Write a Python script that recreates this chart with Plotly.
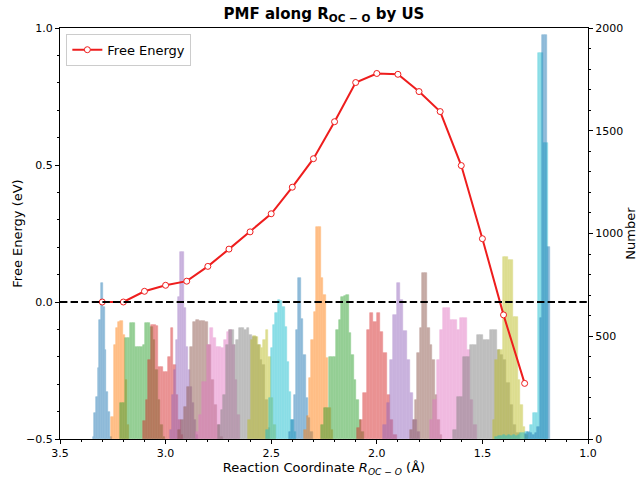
import plotly.graph_objects as go

# ---- Free energy profile (eV) along the reaction coordinate (Å) ----
FE_X = [3.3, 3.2, 3.1, 3.0, 2.9, 2.8, 2.7, 2.6, 2.5, 2.4, 2.3,
        2.2, 2.1, 2.0, 1.9, 1.8, 1.7, 1.6, 1.5, 1.4, 1.3]
FE_Y = [0.0, 0.0, 0.039, 0.061, 0.076, 0.130, 0.193, 0.256, 0.322, 0.419, 0.523,
        0.658, 0.801, 0.834, 0.831, 0.768, 0.695, 0.498, 0.231, -0.047, -0.297]

# ---- Umbrella-sampling window histograms (counts) ----
# each window: upper edge (Å), bin width (Å), counts going toward smaller R
HIST_START = [3.346, 3.2565, 3.214, 3.1052, 2.9775, 2.9397, 2.8546, 2.7506, 2.6087, 2.5236,
              2.4163, 2.3440, 2.2636, 2.0948, 1.9690, 1.8428, 1.7482, 1.6381, 1.4504, 1.4385,
              1.2991]
HIST_BW = [0.00817, 0.01064, 0.01182, 0.01182, 0.00946, 0.01418, 0.0130, 0.01229, 0.01182, 0.01087,
           0.01135, 0.01135, 0.01182, 0.01576, 0.01576, 0.01182, 0.01576, 0.01576, 0.01182, 0.01182,
           0.01182]
HIST_COUNTS = [
    [10, 127, 204, 345, 579, 759, 642, 433, 229, 131, 10],
    [107, 457, 540, 569, 574, 506, 287, 68],
    [175, 175, 491, 491, 564, 564, 448, 448, 448, 457, 564, 564, 545, 482, 336, 190, 68, 10],
    [88, 190, 384, 555, 555, 550, 350, 350, 326, 326, 399, 540, 360, 214, 92, 19],
    [44, 214, 336, 482, 691, 910, 910, 637, 448, 336, 253, 175, 92, 19],
    [44, 92, 156, 253, 448, 569, 579, 574, 574, 569, 457, 287, 165, 68, 10],
    [34, 117, 277, 277, 457, 540, 491, 448, 448, 443, 482, 520, 530, 457, 287, 117],
    [68, 141, 214, 457, 530, 530, 457, 482, 540, 540, 530, 540, 506, 496, 496, 457, 384, 360, 190, 54],
    [92, 482, 501, 496, 457, 443, 482, 530, 399, 200, 68],
    [44, 200, 443, 555, 613, 676, 672, 642, 545, 375, 229, 92, 34],
    [34, 92, 214, 530, 783, 584, 409, 200, 102, 34],
    [44, 112, 297, 482, 618, 1032, 1032, 783, 700, 394, 151, 44],
    [68, 151, 151, 399, 399, 399, 530, 579, 691, 696, 701, 516, 409, 287, 190, 92, 34],
    [54, 92, 224, 530, 613, 569, 613, 521, 418, 214, 92, 19],
    [68, 175, 384, 603, 759, 676, 526, 384, 224, 92, 34],
    [44, 92, 190, 418, 540, 808, 808, 540, 457, 384, 214, 92, 19],
    [92, 190, 384, 530, 637, 637, 579, 579, 530, 589, 589, 433, 190, 68],
    [44, 204, 204, 399, 399, 457, 457, 506, 506, 482, 482, 530, 530, 433, 409, 384, 272, 165, 68, 29],
    [92, 384, 433, 433, 886, 886, 871, 871, 594, 594, 287, 165, 58, 19],
    [10, 15, 15, 20, 15, 20, 15, 20, 15, 19, 29, 29, 34, 29, 68, 127, 127, 1878, 1878, 1440, 1440],
    [25, 35, 30, 20, 30, 60, 587, 1966, 1966, 936],
]

TAB10 = ['#1f77b4', '#ff7f0e', '#2ca02c', '#d62728', '#9467bd',
         '#8c564b', '#e377c2', '#7f7f7f', '#bcbd22', '#17becf']

FONT = 'DejaVu Sans'

fig = go.Figure()

for i, (start, bw, counts) in enumerate(zip(HIST_START, HIST_BW, HIST_COUNTS)):
    centers = [start - (k + 0.5) * bw for k in range(len(counts))]
    col = TAB10[i % 10]
    fig.add_trace(go.Bar(
        x=centers, y=counts, width=[bw] * len(counts),
        marker=dict(color=col, line=dict(width=0.6, color=col)),
        opacity=0.5, showlegend=False, hoverinfo='skip', yaxis='y'))

fig.add_trace(go.Scatter(
    x=FE_X, y=FE_Y, mode='lines+markers', name='Free Energy', yaxis='y2',
    line=dict(color='#ee1d1d', width=2),
    marker=dict(symbol='circle', size=6, color='white',
                line=dict(color='#ee1d1d', width=1))))

fig.add_shape(type='line', xref='paper', x0=0, x1=1, yref='y2', y0=0, y1=0,
              line=dict(color='black', width=2, dash='7.4px,3.2px'), layer='above')

axis_common = dict(showgrid=False, zeroline=False, showline=True, linecolor='black',
                   linewidth=1, ticks='outside', ticklen=4, tickwidth=1, tickcolor='black',
                   automargin=False,
                   tickfont=dict(family=FONT, size=11, color='black'))

fig.update_layout(
    width=638, height=477,
    margin=dict(l=60, r=50, t=28, b=38, autoexpand=False),
    plot_bgcolor='white', paper_bgcolor='white',
    barmode='overlay', bargap=0,
    font=dict(family=FONT, size=11, color='black'),
    title=dict(text='<b>PMF along R<sub>OC − O</sub> by US</b>', x=0.5, xref='paper',
               xanchor='center', y=0.972, yanchor='middle',
               font=dict(family=FONT, size=15, color='black')),
    xaxis=dict(range=[3.5, 1.0], tick0=1.0, dtick=0.5, tickformat='.1f', mirror=True,
               minor=dict(dtick=0.1, ticks='outside', ticklen=2, tickcolor='black'),
               title=dict(text='Reaction Coordinate <i>R<sub>OC − O</sub></i> (Å)',
                          font=dict(family=FONT, size=13), standoff=4),
               **axis_common),
    yaxis=dict(side='right', range=[0, 2000], tick0=0, dtick=500,
               minor=dict(dtick=100, ticks='outside', ticklen=2, tickcolor='black'),
               title=dict(text='Number', font=dict(family=FONT, size=13), standoff=4),
               **axis_common),
    yaxis2=dict(side='left', overlaying='y', range=[-0.5, 1.0], tick0=0, dtick=0.5,
                tickformat='.1f',
                minor=dict(dtick=0.1, ticks='outside', ticklen=2, tickcolor='black'),
                title=dict(text='Free Energy (eV)', font=dict(family=FONT, size=13), standoff=0),
                **axis_common),
    legend=dict(x=0.012, y=0.986, xanchor='left', yanchor='top',
                bgcolor='rgba(255,255,255,0.8)', bordercolor='#cccccc', borderwidth=1,
                font=dict(family=FONT, size=13, color='black')),
)

fig.write_html('out.html', config={'displayModeBar': False})
